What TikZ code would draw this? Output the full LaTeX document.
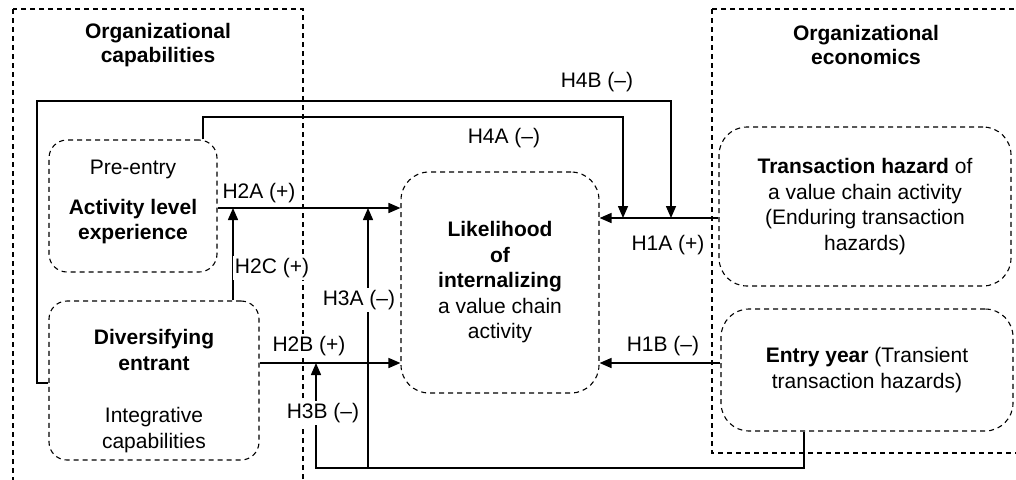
\documentclass[tikz,border=0pt]{standalone}
\usepackage{fontspec}
\setmainfont{Liberation Sans}
\usetikzlibrary{arrows.meta}
\begin{document}
\begin{tikzpicture}[x=1pt,y=-1pt,
  every node/.style={font=\fontsize{21}{25.5}\selectfont, inner sep=0pt},
  region/.style={draw, line width=1.1pt, dash pattern=on 5pt off 4pt},
  factor/.style={draw, line width=1.1pt, dash pattern=on 5pt off 4pt, rounded corners=18pt, align=center},
  bigfactor/.style={factor, rounded corners=28pt},
  conn/.style={line width=1.5pt},
  arr/.style={conn, -{Triangle[length=12pt,width=10pt]}},
  hyp/.style={fill=white, inner sep=2pt},
  title/.style={font=\fontsize{21}{24}\selectfont\bfseries, align=center}
]
\useasboundingbox (0,0) rectangle (1016,479);

% theory regions
\draw[region] (13,9) rectangle (303,495);
\draw[region] (712,9) rectangle (1040,453);
\node[title] (ttlcap) at (158,45) {Organizational\\capabilities};
\node[title] (ttleco) at (866,45) {Organizational\\economics};

% factors
\node[factor, minimum width=168pt, minimum height=132pt] (pre) at (133,206) {};
\node[align=center] (pretext) at (133,202) {Pre-entry\\[14pt]\textbf{Activity level}\\\textbf{experience}};
\node[factor, minimum width=210pt, minimum height=159pt] (div) at (154,380.5) {};
\node[align=center] (divtext) at (154,391) {\textbf{Diversifying}\\\textbf{entrant}\\[27pt]Integrative\\capabilities};
\node[bigfactor, minimum width=198pt, minimum height=221pt] (lik) at (500,282.5)
  {\textbf{Likelihood}\\\textbf{of}\\\textbf{internalizing}\\a value chain\\activity};
\node[bigfactor, minimum width=292pt, minimum height=159pt] (th) at (865,206.5)
  {\textbf{Transaction hazard} of\\a value chain activity\\(Enduring transaction\\hazards)};
\node[bigfactor, minimum width=292pt, minimum height=122pt] (ey) at (867,370)
  {\textbf{Entry year} (Transient\\transaction hazards)};

% junctions on the H1A path
\coordinate (j4a) at (623,218);
\coordinate (j4b) at (671,218);

% direct effects
\draw[arr] (th.west |- j4a) -- (lik.east |- j4a);
\draw[arr] (ey.west |- 0,363) -- (lik.east |- 0,363);
\draw[arr] (pre.east |- 0,208) -- (lik.west |- 0,208);
\draw[arr] (div.east |- 0,363) -- (lik.west |- 0,363);
\draw[arr] (div.north -| 233,0) -- (233,208);

% moderating paths
\draw[arr] (div.west |- 0,383) -- (37,383) -- (37,101) -| (j4b);
\draw[arr] (pre.north -| 203,0) -- (203,117) -| (j4a);
\draw[arr] (ey.south -| 804,0) -- (804,468) -- (316,468) -- (316,363);
\draw[arr] (368,468) -- (368,208);

% hypothesis labels
\node[hyp] (h4b) at (597,82) {H4B (--)};
\node[hyp] (h4a) at (504,138) {H4A (--)};
\node[hyp] (h1a) at (668,245) {H1A (+)};
\node[hyp] (h1b) at (663,346) {H1B (--)};
\node[hyp] (h2a) at (259,193) {H2A (+)};
\node[hyp] (h2c) at (272,268) {H2C (+)};
\node[hyp] (h2b) at (309,346) {H2B (+)};
\node[hyp] (h3a) at (359,300) {H3A (--)};
\node[hyp] (h3b) at (323,413) {H3B (--)};
\end{tikzpicture}
\end{document}
